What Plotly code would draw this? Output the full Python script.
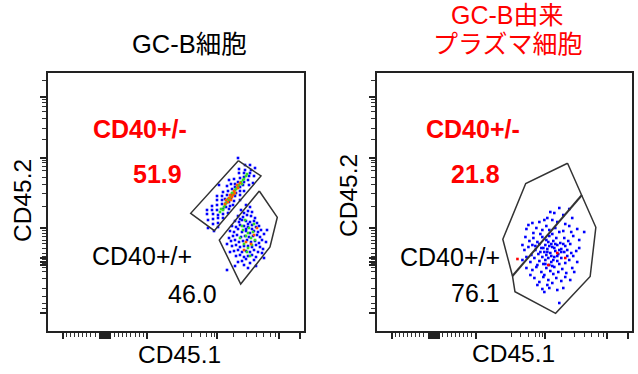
import plotly.graph_objects as go

W, H = 638, 374

# ---------------- data (axis units, both panels share the same scale) ----------------
# Left panel (GC-B cells) – upper gate population (CD40+/-)
L_up_blue_x = [160,165,170,159,165,170,165,170,159,164,170,175,169,175,164,169,175,180,169,174,178,181,174,178,182,169,174,177,181,185,175,179,183,186,180,184,187,192,179,184,188,192,183,187,192,187,192,196,181,186,190,195,192,196,201,191,196,200,191,196,201,197,202,206,197,203,202,207,190,160,166,171,205]
L_up_blue_y = [111,107,104,117,112,108,117,113,121,121,116,113,121,117,125,126,122,118,131,127,124,122,131,128,125,135,135,132,129,126,139,136,133,130,140,137,135,131,145,142,138,136,147,144,140,147,144,140,151,152,149,146,153,149,146,158,154,151,162,158,155,161,158,155,166,161,166,163,173,103,100,146,148]
L_up_green_x = [172,176,178,181,183,185,187,189,191,193,195,198,180,186,190,194,175,199,173,177,182,188,196,184,179]
L_up_green_y = [119,124,128,131,135,138,141,143,146,149,151,155,132,137,144,147,121,157,122,126,133,142,152,138,129]
L_up_orange_x = [177,180,184,186,189,182,192,178,185,183,187,181,190]
L_up_orange_y = [127,129,134,140,146,136,148,131,136,131,138,133,143]

# Left panel – lower gate population (CD40+/+)
L_lo_blue_x = [198,202,193,200,204,196,190,195,199,203,207,192,187,191,194,198,202,206,209,200,184,188,192,196,200,204,208,211,190,198,182,186,194,198,202,206,210,213,204,185,189,193,197,201,205,209,212,216,181,183,187,191,195,199,203,207,211,214,218,184,188,192,196,200,204,208,212,215,179,186,190,194,198,202,206,210,214,188,192,196,200,204,208,198,194,190,202,206,196,200,208,187,179,216,182,219]
L_lo_blue_y = [126,124,121,120,119,118,115,114,116,115,113,112,110,109,111,110,109,110,108,107,105,104,106,105,104,106,104,105,102,102,100,99,99,100,98,100,99,101,102,95,96,94,95,94,95,96,94,97,93,90,91,89,90,91,89,90,88,91,89,85,86,84,85,85,84,86,84,82,87,80,81,79,80,79,81,79,78,75,76,74,75,76,74,72,70,69,68,71,66,63,65,65,61,73,79,101]
L_lo_green_x = [195,198,201,203,196,200,205,192,199,204,194,207,197,202,206,200]
L_lo_green_y = [101,95,103,93,87,83,99,93,79,86,105,91,111,75,107,98]
L_lo_orange_x = [206,198,209,196,203]
L_lo_orange_y = [96,89,103,81,87]

# Right panel (GC-B derived plasma cells)
R_blue_x = [183,193,174,178,187,168,176,171,181,156,152,163,189,196,150,160,166,170,173,179,183,187,193,195,208,157,164,176,201,149,153,157,161,166,170,173,177,180,184,188,192,197,146,156,163,169,175,181,189,194,203,148,152,159,162,165,168,171,174,176,179,182,185,188,191,195,200,203,155,170,178,183,146,150,154,158,163,166,169,172,175,178,181,185,189,193,197,201,161,173,167,183,150,156,160,165,170,174,178,182,186,190,196,198,154,168,177,158,163,167,172,176,180,185,189,194,161,171,166,173,181,187,168,183,171,175,179,167,173,181,185,169,177,164,187,172,159,191,176]
R_blue_y = [123,122,119,118,116,111,111,113,109,108,106,109,107,113,102,103,101,105,101,103,99,100,105,99,99,98,97,97,102,94,90,93,89,94,91,95,90,93,88,93,90,95,86,86,87,86,87,86,85,87,91,81,84,81,77,83,79,82,78,84,80,77,82,79,81,78,80,83,76,76,83,81,71,74,69,73,70,74,71,73,69,74,70,73,68,71,75,69,66,66,67,67,63,61,64,59,63,60,64,59,62,58,63,59,56,56,57,53,49,54,51,48,53,50,54,51,46,46,42,43,41,43,39,28,79,75,87,83,85,75,79,67,71,79,87,89,85,75,65]
R_red_x = [141,181,189,172]
R_red_y = [72,78,73,66]

# Gates (polygon vertices)
L_gate_up_x = [190.3,213,166.3,142.7,190.3]
L_gate_up_y = [170.3,155,100.3,117.7,170.3]
L_gate_lo_x = [211.3,229.3,222,192.7,171.3,211.3]
L_gate_lo_y = [140,113.7,84,47,91,140]
R_gate_x = [191.3,205.7,219.7,214,179.3,138.5,136,126.3,149.3,191.3]
R_gate_y = [167.7,136,103.7,54.5,17.7,39.3,55,91.7,147.5,167.7]
R_split_x = [136,205.7]
R_split_y = [55,136]

# Axis ticks (no labels)
X_major = [15,52,54,56,58,60,62,99.3,168.7,231.3,252]
X_minor = [18.7,22.7,26.3,30.3,34.3,38.7,42.7,47,66,70.3,74.7,78.7,82.7,87,91.3,95.3,
           135.3,143.7,152,158.7,163,166,185.3,198.7,208.7,215.3,222,227]
Y_major = [234.3,173.3,102.7,73,69,66,17.7]
Y_minor = [250.3,231.7,228.7,225,219.3,212.7,202.7,192,171,168.3,165,161,153.7,147,137.7,124.3,
           100.3,97.7,94.3,91,87.7,82.7,78,75,71.5,70,67.5,64,59.3,52.7,42.7,34.3,27.7,22.7]

# Texts
left_title = "GC-B細胞"
right_title = ["GC-B由来", "プラズマ細胞"]
gate_labels = ["CD40+/-", "CD40+/+"]
left_values = ["51.9", "46.0"]
right_values = ["21.8", "76.1"]
x_title, y_title = "CD45.1", "CD45.2"

BLUE, GREEN, ORANGE, RED = "#0000FF", "#33DD22", "#FF5A00", "#FF0000"

fig = go.Figure()

def pts(x, y, color, xa, ya, size=2.6):
    fig.add_trace(go.Scatter(x=x, y=y, mode="markers", xaxis=xa, yaxis=ya,
                             marker=dict(symbol="square", size=size, color=color, line=dict(width=0)),
                             hoverinfo="skip"))

def poly(x, y, xa, ya, w=1.5):
    fig.add_trace(go.Scatter(x=x, y=y, mode="lines", xaxis=xa, yaxis=ya,
                             line=dict(color="#333333", width=w), hoverinfo="skip"))

pts(L_up_blue_x, L_up_blue_y, BLUE, "x", "y")
pts(L_lo_blue_x, L_lo_blue_y, BLUE, "x", "y")
pts(L_up_green_x, L_up_green_y, GREEN, "x", "y")
pts(L_lo_green_x, L_lo_green_y, GREEN, "x", "y")
pts(L_up_orange_x, L_up_orange_y, ORANGE, "x", "y")
pts(L_lo_orange_x, L_lo_orange_y, ORANGE, "x", "y")
poly(L_gate_up_x, L_gate_up_y, "x", "y")
poly(L_gate_lo_x, L_gate_lo_y, "x", "y")

pts(R_blue_x, R_blue_y, BLUE, "x2", "y2")
pts(R_red_x, R_red_y, RED, "x2", "y2")
poly(R_gate_x, R_gate_y, "x2", "y2")
poly(R_split_x, R_split_y, "x2", "y2", w=2)

def xax(domain):
    return dict(domain=domain, range=[0, 256], showline=True, mirror=True, linecolor="#222222",
                linewidth=1.5, showgrid=False, zeroline=False, showticklabels=False,
                ticks="outside", tickmode="array", tickvals=X_major, ticklen=6, tickwidth=1.5,
                tickcolor="#222222",
                minor=dict(tickmode="array", tickvals=X_minor, ticklen=4, tickwidth=1,
                           tickcolor="#333333", showgrid=False))

def yax(domain, anchor):
    return dict(domain=domain, anchor=anchor, range=[0, 258], showline=True, mirror=True,
                linecolor="#222222", linewidth=1.5, showgrid=False, zeroline=False,
                showticklabels=False, ticks="outside", tickmode="array", tickvals=Y_major,
                ticklen=6, tickwidth=1.5, tickcolor="#222222",
                minor=dict(tickmode="array", tickvals=Y_minor, ticklen=4, tickwidth=1,
                           tickcolor="#333333", showgrid=False))

ydom = [1 - 331 / H, 1 - 73 / H]
fig.update_layout(
    width=W, height=H, margin=dict(l=0, r=0, t=0, b=0),
    paper_bgcolor="white", plot_bgcolor="white", showlegend=False,
    xaxis=dict(xax([48 / W, 304 / W]), anchor="y"),
    yaxis=yax(ydom, "x"),
    xaxis2=dict(xax([377 / W, 632 / W]), anchor="y2"),
    yaxis2=yax(ydom, "x2"),
)

SANS = "Liberation Sans, Arial, sans-serif"
TITLE = "Liberation Sans, Noto Sans CJK JP, sans-serif"
ann = []

def t(text, x, y, xref, yref, size, color="black", family=SANS, bold=False, angle=0):
    ann.append(dict(text=f"<b>{text}</b>" if bold else text, x=x, y=y, xref=xref, yref=yref,
                    showarrow=False, xanchor="center", yanchor="middle", textangle=angle,
                    font=dict(size=size, color=color, family=family)))

# panel labels
t(gate_labels[0], 91.5, 202, "x", "y", 25, RED, bold=True)
t(left_values[0], 109.5, 157, "x", "y", 25, RED, bold=True)
t(gate_labels[1], 94, 75, "x", "y", 25)
t(left_values[1], 144.5, 37, "x", "y", 25)
t(gate_labels[0], 96, 202, "x2", "y2", 25, RED, bold=True)
t(right_values[0], 99, 157, "x2", "y2", 25, RED, bold=True)
t(gate_labels[1], 73, 74, "x2", "y2", 25)
t(right_values[1], 99, 38, "x2", "y2", 25)

# axis titles
t(x_title, 179 / W, 1 - 354 / H, "paper", "paper", 24.5)
t(x_title, 513 / W, 1 - 353 / H, "paper", "paper", 24.5)
t(y_title, 22 / W, 1 - 201 / H, "paper", "paper", 24.5, angle=-90)
t(y_title, 348 / W, 1 - 196 / H, "paper", "paper", 24.5, angle=-90)

# titles
t(left_title, 189 / W, 1 - 44 / H, "paper", "paper", 25.5, family=TITLE)
t(right_title[0], 507.5 / W, 1 - 14.5 / H, "paper", "paper", 25, RED, family=TITLE)
t(right_title[1], 507.5 / W, 1 - 43.5 / H, "paper", "paper", 25, RED, family=TITLE)

fig.update_layout(annotations=ann)
fig.write_html("out.html")
